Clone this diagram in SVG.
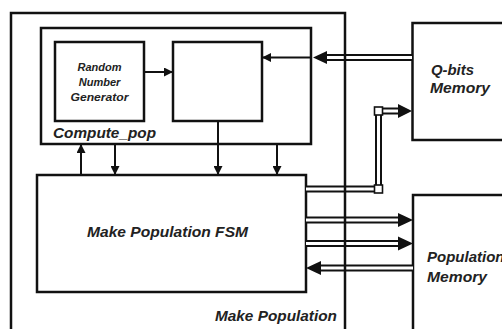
<svg xmlns="http://www.w3.org/2000/svg" width="502" height="329" viewBox="0 0 502 329">
  <style>
    .box { fill: #fff; stroke: #111; stroke-width: 2.5; }
    .frame { fill: none; stroke: #111; stroke-width: 2.5; }
    .wire { fill: none; stroke: #111; stroke-width: 2; }
    .busOuter { fill: none; stroke: #111; stroke-width: 7; }
    .busInner { fill: none; stroke: #fff; stroke-width: 3; }
    .head { fill: #111; }
    .joint { fill: #fff; stroke: #111; stroke-width: 1.6; }
    .lbl { font-family: "Liberation Sans", Arial, sans-serif; font-weight: bold; font-style: italic; fill: #222; }
  </style>
  <defs>
    <marker id="arr" viewBox="0 0 10 10" refX="10" refY="5" markerWidth="4.5" markerHeight="4.5" markerUnits="strokeWidth" orient="auto">
      <path d="M0,0 L10,5 L0,10 Z" fill="#111"/>
    </marker>
  </defs>
  <rect width="502" height="329" fill="#fff"/>

  <!-- Make Population (outer block) -->
  <g id="make-population">
    <text class="lbl" x="215" y="321" font-size="14.5" textLength="122" lengthAdjust="spacingAndGlyphs">Make Population</text>
  </g>

  <!-- Compute_pop block with its two sub-units -->
  <g id="compute-pop">
    <rect class="box" x="41" y="28" width="270" height="116"/>
    <text class="lbl" x="53" y="138" font-size="14.5" textLength="103" lengthAdjust="spacingAndGlyphs">Compute_pop</text>
  </g>
  <g id="rng">
    <rect class="box" x="55" y="42" width="89" height="79"/>
    <text class="lbl" x="99.5" y="71" font-size="11" text-anchor="middle">Random</text>
    <text class="lbl" x="99.5" y="86" font-size="11" text-anchor="middle">Number</text>
    <text class="lbl" x="99.5" y="101" font-size="11" text-anchor="middle" textLength="58" lengthAdjust="spacingAndGlyphs">Generator</text>
  </g>
  <g id="pop-unit">
    <rect class="box" x="173" y="42" width="89" height="79"/>
  </g>

  <!-- FSM -->
  <g id="fsm">
    <rect class="box" x="37" y="175" width="269" height="117"/>
    <text class="lbl" x="87" y="237" font-size="15" textLength="161" lengthAdjust="spacingAndGlyphs">Make Population FSM</text>
  </g>

  <!-- Memories -->
  <g id="qbits-memory">
    <rect class="box" x="412.5" y="23" width="100" height="117"/>
    <text class="lbl" x="431" y="75" font-size="15" textLength="43" lengthAdjust="spacingAndGlyphs">Q-bits</text>
    <text class="lbl" x="430" y="93" font-size="15" textLength="60" lengthAdjust="spacingAndGlyphs">Memory</text>
  </g>
  <g id="population-memory">
    <rect class="box" x="413" y="195" width="100" height="145"/>
    <text class="lbl" x="427" y="262" font-size="15">Population</text>
    <text class="lbl" x="427" y="282" font-size="15" textLength="60" lengthAdjust="spacingAndGlyphs">Memory</text>
  </g>

  <!-- Connectors -->
  <g id="connectors">
    <!-- single wires -->
    <line class="wire" x1="144" y1="72" x2="173" y2="72" marker-end="url(#arr)"/>
    <line class="wire" x1="311" y1="57.5" x2="262" y2="57.5" marker-end="url(#arr)"/>
    <line class="wire" x1="81" y1="175" x2="81" y2="144" marker-end="url(#arr)"/>
    <line class="wire" x1="115" y1="144" x2="115" y2="175" marker-end="url(#arr)"/>
    <line class="wire" x1="218" y1="121" x2="218" y2="175" marker-end="url(#arr)"/>
    <line class="wire" x1="277" y1="144" x2="277" y2="175" marker-end="url(#arr)"/>

    <!-- buses: Q-bits memory to Compute_pop -->
    <path class="busOuter" d="M412,57.5 H325"/>
    <path class="busInner" d="M412,57.5 H325"/>
    <path class="head" d="M313,57.5 L327,51 L327,64 Z"/>

    <!-- FSM to Q-bits memory through two joints -->
    <path class="busOuter" d="M306,189 H378.5 V111 H399"/>
    <path class="busInner" d="M306,189 H378.5 V111 H399"/>
    <path class="head" d="M412,111 L398,104 L398,118 Z"/>
    <rect class="joint" x="374.5" y="107" width="8" height="8"/>
    <rect class="joint" x="374.5" y="185" width="8" height="8"/>

    <!-- FSM to population memory -->
    <path class="busOuter" d="M306,220 H399"/>
    <path class="busInner" d="M306,220 H399"/>
    <path class="head" d="M413,220 L398,213 L398,227 Z"/>
    <path class="busOuter" d="M306,243.5 H399"/>
    <path class="busInner" d="M306,243.5 H399"/>
    <path class="head" d="M413,243.5 L398,236.5 L398,250.5 Z"/>

    <!-- population memory to FSM -->
    <path class="busOuter" d="M413,268 H320"/>
    <path class="busInner" d="M413,268 H320"/>
    <path class="head" d="M306,268 L321,261 L321,275 Z"/>
  </g>

  <!-- outer frame drawn over the buses that cross it -->
  <g id="make-population-frame">
    <rect class="frame" x="11" y="13" width="334" height="330"/>
  </g>
</svg>
